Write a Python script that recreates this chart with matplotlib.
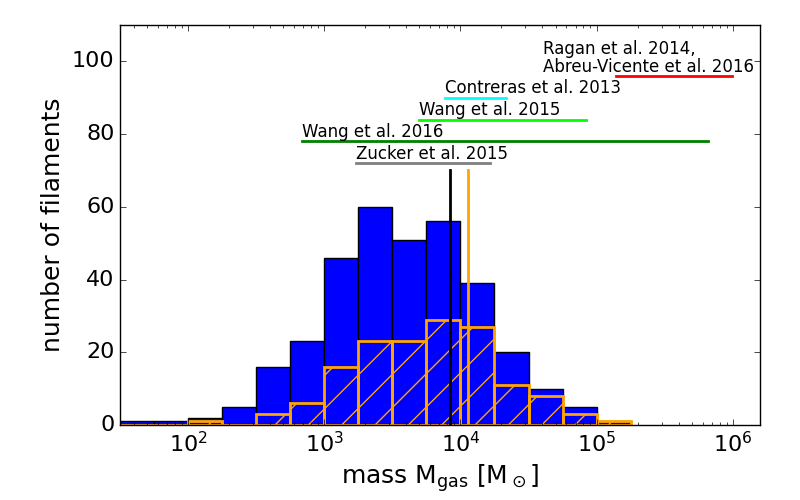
import matplotlib
matplotlib.use("Agg")
import matplotlib.pyplot as plt
import numpy as np

# histogram bins (log10 of gas mass), 0.25 dex wide
bin_edges_log = np.arange(1.5, 5.26, 0.25)
counts_all = [1, 1, 2, 5, 16, 23, 46, 60, 51, 56, 39, 20, 10, 5, 1]
counts_sub = [0, 0, 1, 0, 3, 6, 16, 23, 23, 29, 27, 11, 8, 3, 1]

# median lines
median_all = 8340.0
median_sub = 11300.0
median_top = 70

# literature mass ranges
ref_labels = ["Zucker et al. 2015", "Wang et al. 2016", "Wang et al. 2015",
              "Contreras et al. 2013", "Ragan et al. 2014,\nAbreu-Vicente et al. 2016"]
ref_y = [72, 78, 84, 90, 96]
ref_lo = [1710.0, 692.0, 4935.0, 7665.0, 1.40e5]
ref_hi = [1.643e4, 6.62e5, 8.4e4, 2.17e4, 9.8e5]
ref_text_x = [1710.0, 692.0, 4935.0, 7665.0, 4.06e4]
ref_colors = ["gray", "g", "lime", "cyan", "red"]

plt.style.use("classic")
plt.rcParams["mathtext.fontset"] = "dejavusans"

edges = 10 ** bin_edges_log
centers = 10 ** (0.5 * (bin_edges_log[1:] + bin_edges_log[:-1]))

fig = plt.figure(figsize=(8, 5), dpi=100)
fig.patch.set_facecolor("white")
ax = fig.add_axes([0.15, 0.15, 0.8, 0.8])

ax.hist(centers, bins=edges, weights=counts_all, color="b", edgecolor="k", lw=1)
ax.hist(centers, bins=edges, weights=counts_sub, fill=False, edgecolor="orange",
        hatch="/", lw=2)

ax.plot([median_all, median_all], [0, median_top], color="k", lw=2)
ax.plot([median_sub, median_sub], [0, median_top], color="orange", lw=2)

for lab, y, lo, hi, tx, c in zip(ref_labels, ref_y, ref_lo, ref_hi, ref_text_x, ref_colors):
    ax.plot([lo, hi], [y, y], color=c, lw=2)
    ax.text(tx, y + 0.1, lab, fontsize=12, va="bottom", ha="left", linespacing=0.95)

ax.set_xscale("log")
ax.set_xlim(10 ** 1.5, 10 ** 6.2)
ax.set_ylim(0, 110)
ax.set_yticks([0, 20, 40, 60, 80, 100])
ax.tick_params(labelsize=16)
ax.set_xlabel(r"mass M$_{\rm gas}$ [M$_\odot$]", fontsize=18)
ax.set_ylabel("number of filaments", fontsize=18)

fig.savefig("out.png", dpi=100, facecolor="white")
